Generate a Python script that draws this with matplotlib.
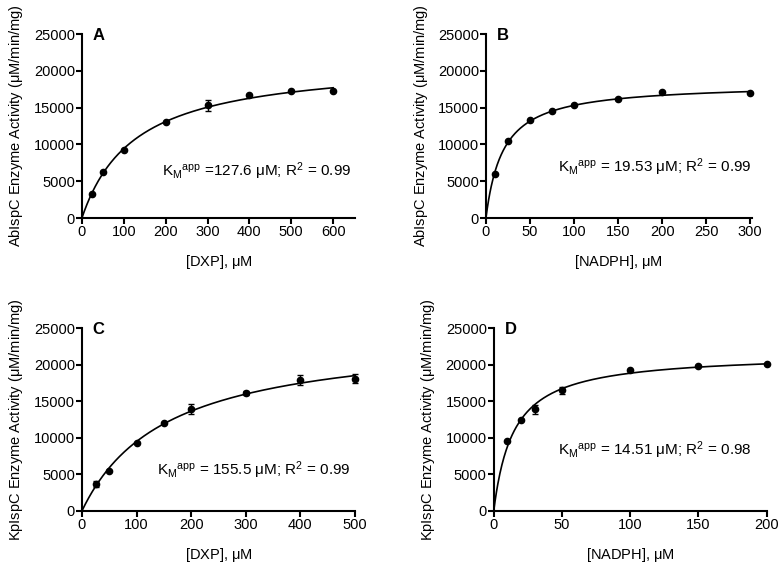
import numpy as np
import matplotlib
matplotlib.use("Agg")
import matplotlib.pyplot as plt

plt.rcParams['font.family'] = ['Liberation Sans', 'DejaVu Sans']
plt.rcParams['mathtext.fontset'] = 'custom'
plt.rcParams['mathtext.rm'] = 'Liberation Sans'
plt.rcParams['mathtext.it'] = 'Liberation Sans'

# ---------------------- Data ---------------------- #
# A: AbIspC vs DXP
a_x = [25, 50, 100, 200, 300, 400, 500, 600]
a_y = [3200, 6300, 9200, 13000, 15300, 16700, 17200, 17200]
a_err = [0, 0, 0, 0, 700, 0, 0, 0]
a_vmax, a_km = 21460, 127.6

# B: AbIspC vs NADPH
b_x = [10, 25, 50, 75, 100, 150, 200, 300]
b_y = [6000, 10400, 13300, 14600, 15400, 16200, 17100, 17000]
b_err = [0, 0, 0, 0, 0, 0, 0, 0]
b_vmax, b_km = 18300, 19.53

# C: KpIspC vs DXP
c_x = [25, 50, 100, 150, 200, 300, 400, 500]
c_y = [3700, 5500, 9300, 12000, 13900, 16100, 17900, 18100]
c_err = [450, 0, 0, 0, 650, 300, 650, 650]
c_vmax, c_km = 24250, 155.5

# D: KpIspC vs NADPH
d_x = [10, 20, 30, 50, 100, 150, 200]
d_y = [9500, 12400, 13900, 16500, 19200, 19800, 20100]
d_err = [0, 0, 600, 500, 0, 0, 0]
d_vmax, d_km = 21560, 14.51

panels = [
    dict(x=a_x, y=a_y, err=a_err, vmax=a_vmax, km=a_km, letter='A',
         xlabel=r'[DXP], $\mu$M', ylabel=r'AbIspC Enzyme Activity ($\mu$M/min/mg)',
         xlim=(0, 652), xticks=[0, 100, 200, 300, 400, 500, 600],
         note=r'K$_\mathrm{M}$$^\mathrm{app}$ =127.6 $\mu$M; R$^2$ = 0.99', note_xy=(191, 6400),
         rect=[0.105, 0.6155, 0.35, 0.3245]),
    dict(x=b_x, y=b_y, err=b_err, vmax=b_vmax, km=b_km, letter='B',
         xlabel=r'[NADPH], $\mu$M', ylabel=r'AbIspC Enzyme Activity ($\mu$M/min/mg)',
         xlim=(0, 302), xticks=[0, 50, 100, 150, 200, 250, 300],
         note=r'K$_\mathrm{M}$$^\mathrm{app}$ = 19.53 $\mu$M; R$^2$ = 0.99', note_xy=(82, 6900),
         rect=[0.623, 0.6155, 0.341, 0.3245]),
    dict(x=c_x, y=c_y, err=c_err, vmax=c_vmax, km=c_km, letter='C',
         xlabel=r'[DXP], $\mu$M', ylabel=r'KpIspC Enzyme Activity ($\mu$M/min/mg)',
         xlim=(0, 500), xticks=[0, 100, 200, 300, 400, 500],
         note=r'K$_\mathrm{M}$$^\mathrm{app}$ = 155.5 $\mu$M; R$^2$ = 0.99', note_xy=(137, 5600),
         rect=[0.105, 0.0988, 0.35, 0.3227]),
    dict(x=d_x, y=d_y, err=d_err, vmax=d_vmax, km=d_km, letter='D',
         xlabel=r'[NADPH], $\mu$M', ylabel=r'KpIspC Enzyme Activity ($\mu$M/min/mg)',
         xlim=(0, 200), xticks=[0, 50, 100, 150, 200],
         note=r'K$_\mathrm{M}$$^\mathrm{app}$ = 14.51 $\mu$M; R$^2$ = 0.98', note_xy=(47, 8300),
         rect=[0.633, 0.0988, 0.35, 0.3227]),
]

fig = plt.figure(figsize=(7.8, 5.67), dpi=100)

for p in panels:
    ax = fig.add_axes(p['rect'])
    # Michaelis-Menten fit line
    xs = np.linspace(0, max(p['x']), 400)
    ax.plot(xs, p['vmax'] * xs / (p['km'] + xs), color='black', lw=1.2, zorder=2)
    err = [e if e > 0 else np.nan for e in p['err']]
    ax.errorbar(p['x'], p['y'], yerr=err, fmt='o', color='black', ms=4.5,
                elinewidth=1, capsize=2.5, capthick=1, zorder=3)
    ax.set_xlim(*p['xlim'])
    ax.set_ylim(0, 25000)
    ax.set_xticks(p['xticks'])
    ax.set_yticks([0, 5000, 10000, 15000, 20000, 25000])
    for s in ['top', 'right']:
        ax.spines[s].set_visible(False)
    for s in ['left', 'bottom']:
        ax.spines[s].set_linewidth(1.5)
    ax.tick_params(direction='out', length=4, width=1.5, labelsize=10.5, pad=1)
    ax.set_xlabel(p['xlabel'], fontsize=10.5, labelpad=10)
    ax.set_ylabel(p['ylabel'], fontsize=10.5, labelpad=6)
    ax.text(0.04, 0.99, p['letter'], transform=ax.transAxes, fontsize=12,
            fontweight='bold', va='center', ha='left')
    ax.text(p['note_xy'][0], p['note_xy'][1], p['note'], fontsize=11,
            va='center', ha='left')
    ax.margins(0)
    for c in ax.get_children():
        if hasattr(c, 'set_clip_on'):
            c.set_clip_on(False)

fig.savefig('out.png', dpi=100)
